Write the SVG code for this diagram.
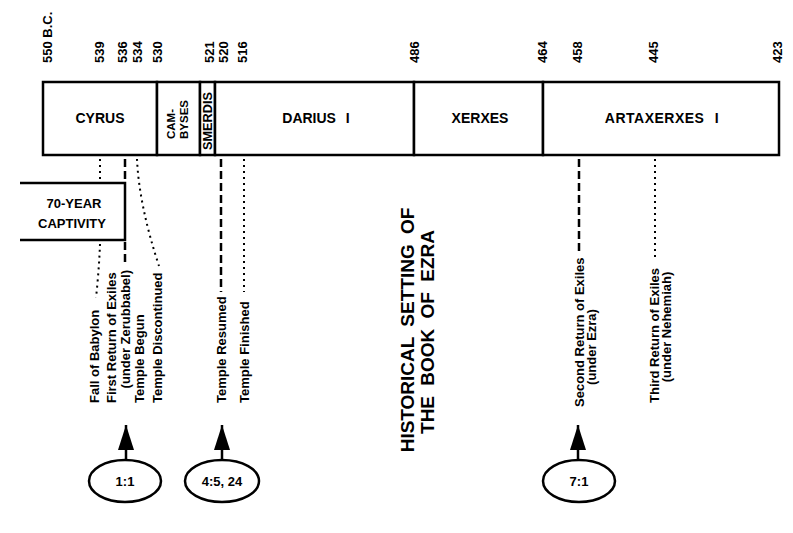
<svg xmlns="http://www.w3.org/2000/svg" width="793" height="533" viewBox="0 0 793 533">
<style>
text{font-family:"Liberation Sans",Arial,sans-serif;font-weight:bold;fill:#000}
.yr{font-size:13px}
.bar{font-size:14px;text-anchor:middle}
.lab{font-size:13px}
.ttl{font-size:19px;text-anchor:middle;word-spacing:5px}
.box{fill:#fff;stroke:#000;stroke-width:2.5}
.dash{fill:none;stroke:#000;stroke-width:2.5;stroke-dasharray:8 4}
.dot{fill:none;stroke:#000;stroke-width:2;stroke-dasharray:2 4}
.arr{fill:none;stroke:#000;stroke-width:2.5}
.ell{fill:#fff;stroke:#000;stroke-width:2.5}
.ref{font-size:13px;text-anchor:middle}
</style>
<defs>
<marker id="ah" markerWidth="25" markerHeight="16" refX="25" refY="8" orient="auto" markerUnits="userSpaceOnUse" viewBox="0 0 25 16"><path d="M0,0 L25,8 L0,16 Z" fill="#000"/></marker>
</defs>
<rect width="793" height="533" fill="#fff"/>

<g id="years">
<text class="yr" transform="translate(52,63) rotate(-90)">550 B.C.</text>
<text class="yr" transform="translate(104,63) rotate(-90)">539</text>
<text class="yr" transform="translate(127,63) rotate(-90)">536</text>
<text class="yr" transform="translate(142,63) rotate(-90)">534</text>
<text class="yr" transform="translate(162,63) rotate(-90)">530</text>
<text class="yr" transform="translate(214,63) rotate(-90)">521</text>
<text class="yr" transform="translate(228,63) rotate(-90)">520</text>
<text class="yr" transform="translate(247,63) rotate(-90)">516</text>
<text class="yr" transform="translate(419,63) rotate(-90)">486</text>
<text class="yr" transform="translate(547,63) rotate(-90)">464</text>
<text class="yr" transform="translate(582,63) rotate(-90)">458</text>
<text class="yr" transform="translate(658,63) rotate(-90)">445</text>
<text class="yr" transform="translate(782,63) rotate(-90)">423</text>
</g>

<g id="cyrus"><rect class="box" x="43" y="82" width="114" height="73"/><text class="bar" x="100" y="123">CYRUS</text></g>
<g id="cambyses"><rect class="box" x="157" y="82" width="43" height="73"/>
<text style="font-size:11.5px" transform="translate(175,139) rotate(-90)">CAM-</text>
<text style="font-size:11.5px" transform="translate(188,139) rotate(-90)">BYSES</text></g>
<g id="smerdis"><rect class="box" x="200" y="82" width="15" height="73"/>
<text style="font-size:12px" textLength="58" lengthAdjust="spacingAndGlyphs" transform="translate(212,150) rotate(-90)">SMERDIS</text></g>
<g id="darius"><rect class="box" x="215" y="82" width="199" height="73"/><text class="bar" x="316" y="123" word-spacing="6">DARIUS I</text></g>
<g id="xerxes"><rect class="box" x="414" y="82" width="129" height="73"/><text class="bar" x="480" y="123">XERXES</text></g>
<g id="artaxerxes"><rect class="box" x="543" y="82" width="236" height="73"/><text class="bar" x="662" y="123" letter-spacing="0.5" word-spacing="6">ARTAXERXES I</text></g>

<g id="connectors">
<path class="dot" d="M100,159 V182"/>
<path class="dot" d="M100,244 Q99,270 96,298"/>
<path class="dash" d="M125,159 V183"/>
<path class="dash" d="M125,242 V266"/>
<path class="dot" d="M137,159 Q139,205 159,266"/>
<path class="dash" d="M221,159 V292"/>
<path class="dot" d="M244,159 V292"/>
<path class="dash" d="M579,159 V252"/>
<path class="dot" d="M655,159 V260"/>
<path class="arr" d="M126,460 V425" marker-end="url(#ah)"/>
<path class="arr" d="M222,460 V425" marker-end="url(#ah)"/>
<path class="arr" d="M578,460 V425" marker-end="url(#ah)"/>
</g>

<g id="captivity">
<path d="M20,183 H125 V240 H20" fill="#fff" stroke="#000" stroke-width="2.5"/>
<text style="font-size:13px;text-anchor:middle" x="74" y="208">70-YEAR</text>
<text style="font-size:13px;text-anchor:middle" x="72" y="228">CAPTIVITY</text>
</g>

<g id="events">
<text class="lab" transform="translate(99,403) rotate(-90)">Fall of Babylon</text>
<text class="lab" transform="translate(116,403) rotate(-90)">First Return of Exiles</text>
<text class="lab" style="text-anchor:end" transform="translate(130,270) rotate(-90)">(under Zerubbabel)</text>
<text class="lab" transform="translate(144,403) rotate(-90)">Temple Begun</text>
<text class="lab" transform="translate(162,403) rotate(-90)">Temple Discontinued</text>
<text class="lab" transform="translate(226,403) rotate(-90)">Temple Resumed</text>
<text class="lab" transform="translate(249,403) rotate(-90)">Temple Finished</text>
<text class="lab" transform="translate(584,407) rotate(-90)">Second Return of Exiles</text>
<text class="lab" style="text-anchor:middle" transform="translate(596,347) rotate(-90)">(under Ezra)</text>
<text class="lab" transform="translate(659,403) rotate(-90)">Third Return of Exiles</text>
<text class="lab" style="text-anchor:middle" transform="translate(671,327) rotate(-90)">(under Nehemiah)</text>
</g>

<g id="title">
<text class="ttl" transform="translate(414,330) rotate(-90)">HISTORICAL SETTING OF</text>
<text class="ttl" transform="translate(434,332) rotate(-90)">THE BOOK OF EZRA</text>
</g>

<g id="ref-1-1"><ellipse class="ell" cx="125" cy="481" rx="36" ry="21"/><text class="ref" x="125" y="486">1:1</text></g>
<g id="ref-4-5"><ellipse class="ell" cx="222" cy="481" rx="37" ry="21"/><text class="ref" x="222" y="486">4:5, 24</text></g>
<g id="ref-7-1"><ellipse class="ell" cx="579" cy="481" rx="36" ry="21"/><text class="ref" x="579" y="486">7:1</text></g>
</svg>
